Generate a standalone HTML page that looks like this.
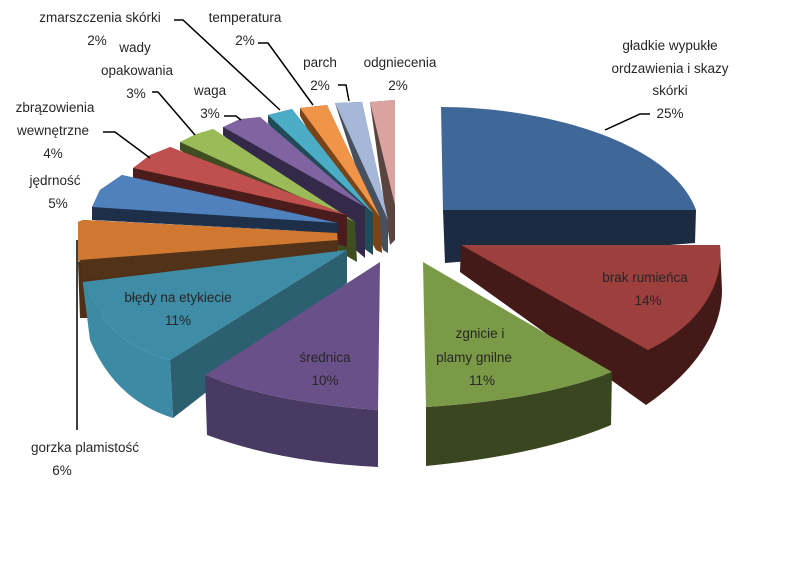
<!DOCTYPE html>
<html><head><meta charset="utf-8"><style>
html,body{margin:0;padding:0;background:#fff}
svg{display:block}
text{font-family:"Liberation Sans",sans-serif;font-size:13.5px;fill:#262626;text-anchor:middle}
</style></head><body>
<svg width="800" height="587" viewBox="0 0 800 587" xmlns="http://www.w3.org/2000/svg">
<rect width="800" height="587" fill="#fff"/>
<!-- small wedges back to front (right to left) -->
<!-- pink -->
<polygon points="370,102 395,100 395,240 390,245" fill="#5a4440"/>
<polygon points="370,102 395,100 395,205" fill="#d9a3a0"/>
<!-- light blue -->
<polygon points="335,103 362,102 388,220 388,253 383,250" fill="#47505e"/>
<polygon points="335,103 362,102 388,220" fill="#a6b8d8"/>
<!-- small orange -->
<polygon points="300,108 327,105 380,217 382,253 376,250 300,116" fill="#7a4417"/>
<polygon points="300,108 327,105 380,217" fill="#f0944a"/>
<!-- small teal -->
<polygon points="268,115 292,109 373,213 373,255 366,250 268,123" fill="#1f4c57"/>
<polygon points="268,115 292,109 373,213" fill="#4bacc6"/>
<!-- purple small -->
<polygon points="223,127 260,117 365,207 365,258 358,252 223,135" fill="#35294a"/>
<polygon points="223,127 240,119 260,117 365,207" fill="#8064a2"/>
<!-- green small -->
<polygon points="180,142 213,129 355,222 357,262 350,258 180,150" fill="#3f4d20"/>
<polygon points="180,142 196,134 213,129 355,222" fill="#9bbb59"/>
<!-- red small -->
<polygon points="133,168 170,147 347,215 347,247 340,245 133,178" fill="#4a1c1b"/>
<polygon points="133,168 150,155 170,147 347,215" fill="#c0504d"/>
<!-- blue jędrność -->
<polygon points="92,207 100,190 122,175 338,223 338,233 92,220" fill="#1e2f4a"/>
<polygon points="92,207 100,190 122,175 338,223" fill="#4f81bd"/>
<!-- orange gorzka -->
<polygon points="78,222 83,220 337,233 338,252 90,318 80,318 78,262" fill="#4f2f15"/>
<polygon points="78,222 78,262 338,242 337,233 83,220" fill="#d0782f"/>
<polygon points="80,260 338,240 338,252 82,280" fill="#523218"/>
<!-- big teal -->
<path d="M347,250 L347,283 L173,418 L170,360 Z" fill="#2c5f70"/>
<path d="M83,285 Q110,345 170,360 L173,418 Q115,400 90,340 Z" fill="#3c8aa3"/>
<path d="M83,282 L347,250 L170,360 Q110,345 83,285 Z" fill="#3e8ca5"/>
<!-- purple big -->
<path d="M205,375 Q270,402 378,410 L378,467 Q280,462 207,435 Z" fill="#493a63"/>
<path d="M380,262 L378,410 Q270,402 205,375 Z" fill="#6a5089"/>
<!-- blue big -->
<polygon points="443,210 696,210 695,243 445,263" fill="#1c2a42"/>
<path d="M441,107 C540,107 670,140 696,210 L443,210 Z" fill="#3f6899"/>
<!-- red big -->
<path d="M461,245 L460,272 L646,405 C690,375 722,335 722,290 L720,245 Z" fill="#431a18"/>
<path d="M461,245 L720,245 C724,285 700,325 648,350 Z" fill="#9c3f3d"/>
<!-- green big -->
<path d="M426,407 Q540,400 612,372 L611,425 Q540,455 426,466 Z" fill="#3a4620"/>
<path d="M423,262 L612,372 Q540,400 426,407 Z" fill="#7b9a47"/>
<!-- leader lines -->
<g stroke="#000" stroke-width="1.5" fill="none">
<polyline points="174,20 183,20 280,110"/>
<polyline points="258,43 268,43 313,105"/>
<polyline points="338,85 346,85 349,101"/>
<polyline points="224,116 236,116 241,120"/>
<polyline points="152,92 158,92 195,135"/>
<polyline points="103,132 115,132 150,158"/>
<polyline points="650,114 640,114 605,130"/>
<line x1="77" y1="240" x2="77" y2="430"/>
</g>
<!-- labels -->
<text x="100" y="22">zmarszczenia skórki</text><text x="97" y="45">2%</text>
<text x="245" y="22">temperatura</text><text x="245" y="45">2%</text>
<text x="135" y="52">wady</text><text x="137" y="75">opakowania</text><text x="136" y="98">3%</text>
<text x="210" y="95">waga</text><text x="210" y="118">3%</text>
<text x="320" y="67">parch</text><text x="320" y="90">2%</text>
<text x="400" y="67">odgniecenia</text><text x="398" y="90">2%</text>
<text x="55" y="112">zbrązowienia</text><text x="53" y="135">wewnętrzne</text><text x="53" y="158">4%</text>
<text x="55" y="185">jędrność</text><text x="58" y="208">5%</text>
<text x="670" y="50">gładkie wypukłe</text><text x="670" y="73">ordzawienia i skazy</text><text x="670" y="95">skórki</text><text x="670" y="118">25%</text>
<text x="645" y="282">brak rumieńca</text><text x="648" y="305">14%</text>
<text x="480" y="338">zgnicie i</text><text x="474" y="362">plamy gnilne</text><text x="482" y="385">11%</text>
<text x="325" y="362">średnica</text><text x="325" y="385">10%</text>
<text x="178" y="302">błędy na etykiecie</text><text x="178" y="325">11%</text>
<text x="85" y="452">gorzka plamistość</text><text x="62" y="475">6%</text>
</svg>
</body></html>
